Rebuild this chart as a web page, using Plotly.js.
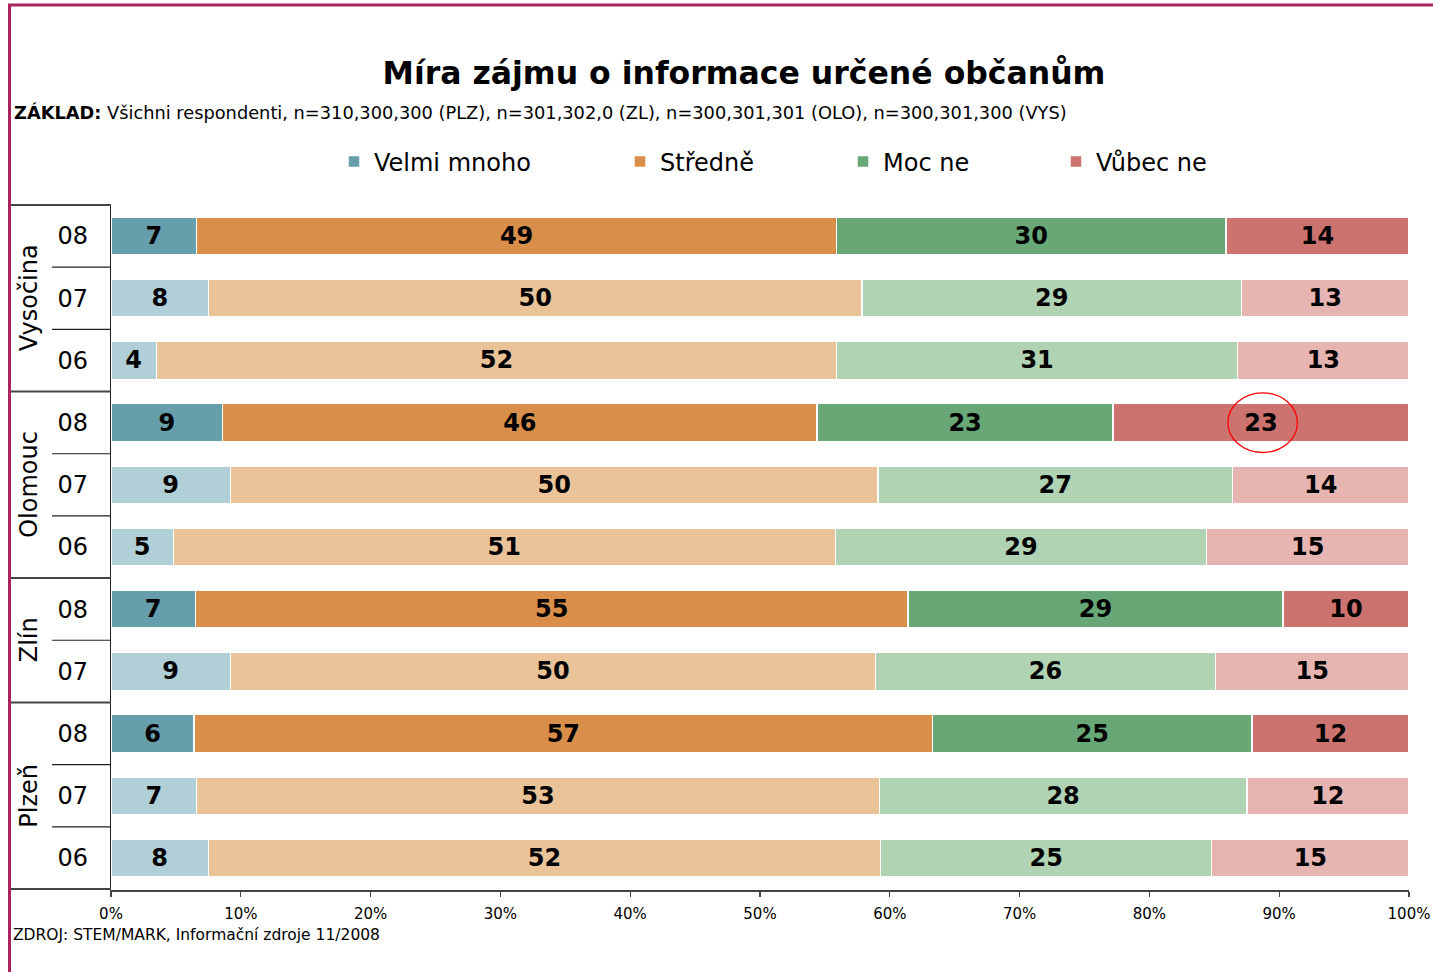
<!DOCTYPE html>
<html>
<head>
<meta charset="utf-8">
<script src="https://cdn.plot.ly/plotly-3.0.1.min.js"></script>
<style>
  html, body { margin: 0; padding: 0; background: #fff; }
  #chart { width: 1433px; height: 972px; }
</style>
</head>
<body>
<div id="chart"></div>
<script>
// ---- Data ----
const regions = ["Vysočina", "Vysočina", "Vysočina", "Olomouc", "Olomouc", "Olomouc", "Zlín", "Zlín", "Plzeň", "Plzeň", "Plzeň"];
const years   = ["08", "07", "06", "08", "07", "06", "08", "07", "08", "07", "06"];

const seriesNames = ["Velmi mnoho", "Středně", "Moc ne", "Vůbec ne"];

// bar lengths (estimated, %)
const velmiMnoho = [6.6, 7.5, 3.5, 8.6, 9.2, 4.8, 6.5, 9.2, 6.4, 6.6, 7.5];
const stredne    = [49.3, 50.3, 52.4, 45.8, 49.9, 51.0, 54.9, 49.7, 56.9, 52.6, 51.8];
const mocNe      = [30.0, 29.2, 30.9, 22.8, 27.3, 28.6, 28.9, 26.2, 24.6, 28.3, 25.5];
const vubecNe    = [14.1, 12.9, 13.2, 22.8, 13.6, 15.6, 9.7, 14.9, 12.1, 12.5, 15.2];

// labels printed in the bars
const velmiMnohoLbl = [7, 8, 4, 9, 9, 5, 7, 9, 6, 7, 8];
const strednLbl     = [49, 50, 52, 46, 50, 51, 55, 50, 57, 53, 52];
const mocNeLbl      = [30, 29, 31, 23, 27, 29, 29, 26, 25, 28, 25];
const vubecNeLbl    = [14, 13, 13, 23, 14, 15, 10, 15, 12, 12, 15];

const groupNames = ["Vysočina", "Olomouc", "Zlín", "Plzeň"];
const xTickVals = [0, 10, 20, 30, 40, 50, 60, 70, 80, 90, 100];
const xTickText = ["0%", "10%", "20%", "30%", "40%", "50%", "60%", "70%", "80%", "90%", "100%"];

// ---- Styles ----
const darkColors  = ["#679EAC", "#D98E4A", "#68A877", "#CC736F"];
const lightColors = ["#B0CFD6", "#EAC498", "#B0D3B3", "#E6B5B1"];
const FONT = "DejaVu Sans, Verdana, sans-serif";

const cats = regions.map((r, i) => r + " " + years[i]);
const values = [velmiMnoho, stredne, mocNe, vubecNe];
const labels = [velmiMnohoLbl, strednLbl, mocNeLbl, vubecNeLbl];

const legendNames = ["legend", "legend2", "legend3", "legend4"];
const traces = seriesNames.map((name, s) => ({
  type: "bar",
  orientation: "h",
  name: name,
  y: cats,
  x: values[s],
  text: labels[s].map(String),
  textposition: "inside",
  insidetextanchor: "middle",
  textangle: 0,
  textfont: { family: FONT, size: 24, color: "#000", weight: "bold" },
  hoverinfo: "skip",
  legend: legendNames[s],
  marker: {
    color: years.map(y => (y === "08" ? darkColors[s] : lightColors[s])),
    line: { color: "#ffffff", width: 1.5 }
  }
}));

// plot area: x 111..1409, y 204..890
const L = 111, R = 1409, T = 204, B = 890;
const pw = R - L, ph = B - T;
const px = v => (v - L) / pw;
const py = v => (B - v) / ph;

// group structure
const groupStart = [];
const groupEnd = [];
groupNames.forEach(g => {
  groupStart.push(regions.indexOf(g));
  groupEnd.push(regions.lastIndexOf(g));
});

const shapes = [];
// group dividers (long)
const groupBounds = [-0.5].concat(groupEnd.map(e => e + 0.5));
groupBounds.forEach(b => {
  shapes.push({ type: "line", xref: "paper", yref: "y", x0: px(8), x1: 0, y0: b, y1: b,
    line: { color: "#444", width: 2 } });
});
// year dividers (short)
for (let i = 0; i < cats.length - 1; i++) {
  if (regions[i] === regions[i + 1]) {
    shapes.push({ type: "line", xref: "paper", yref: "y", x0: px(52), x1: 0, y0: i + 0.5, y1: i + 0.5,
      line: { color: "#222", width: 1.2 } });
  }
}
// red highlight circle around Olomouc 08 "Vůbec ne"
shapes.push({ type: "circle", xref: "x", yref: "y", x0: 86.05, x1: 91.4, y0: 3 - 0.48, y1: 3 + 0.48,
  line: { color: "#ff0000", width: 1.3 } });
// page frame
shapes.push({ type: "line", xref: "paper", yref: "paper", x0: px(8), x1: px(1433), y0: py(5), y1: py(5),
  line: { color: "#A8245F", width: 3 } });
shapes.push({ type: "line", xref: "paper", yref: "paper", x0: px(9.5), x1: px(9.5), y0: py(4), y1: py(972),
  line: { color: "#A8245F", width: 3 } });

const annotations = [];
groupNames.forEach((g, k) => {
  const mid = (groupStart[k] + groupEnd[k]) / 2;
  annotations.push({ text: g, xref: "paper", yref: "y", x: px(29), y: mid, textangle: -90,
    showarrow: false, xanchor: "center", yanchor: "middle",
    font: { family: FONT, size: 24, color: "#000" } });
});
annotations.push({
  text: "<b>ZÁKLAD:</b> Všichni respondenti, n=310,300,300 (PLZ), n=301,302,0 (ZL), n=300,301,301 (OLO), n=300,301,300 (VYS)",
  xref: "paper", yref: "paper", x: px(12), y: py(113), xanchor: "left", yanchor: "middle",
  showarrow: false, font: { family: FONT, size: 17.8, color: "#000" }
});
annotations.push({
  text: "ZDROJ: STEM/MARK, Informační zdroje 11/2008",
  xref: "paper", yref: "paper", x: px(11), y: py(935), xanchor: "left", yanchor: "middle",
  showarrow: false, font: { family: FONT, size: 15.5, color: "#000" }
});

const legendTextStart = [374, 660, 883, 1096];
const layout = {
  width: 1433, height: 972,
  margin: { l: L, r: 1433 - R, t: T, b: 972 - B, pad: 0 },
  paper_bgcolor: "#fff", plot_bgcolor: "#fff",
  barmode: "stack",
  barnorm: "percent",
  bargap: 0.39,
  font: { family: FONT, color: "#000" },
  title: {
    text: "<b>Míra zájmu o informace určené občanům</b>",
    xref: "container", yref: "container", x: 744 / 1433, y: 1 - 73 / 972,
    xanchor: "center", yanchor: "middle",
    font: { family: FONT, size: 31.5, color: "#000" }
  },
  xaxis: {
    range: [0, 100], tickmode: "array", tickvals: xTickVals, ticktext: xTickText,
    ticks: "outside", ticklen: 5, tickcolor: "#444", tickwidth: 1.2,
    ticklabelstandoff: 4,
    showline: true, linecolor: "#444", linewidth: 1.5,
    showgrid: false, zeroline: false,
    tickfont: { family: FONT, size: 15, color: "#000" }
  },
  yaxis: {
    type: "category", autorange: "reversed",
    tickvals: cats, ticktext: years,
    ticks: "", ticklabelstandoff: 17,
    showline: true, linecolor: "#222", linewidth: 1.2,
    showgrid: false, zeroline: false,
    tickfont: { family: FONT, size: 24, color: "#000" }
  },
  shapes: shapes,
  annotations: annotations,
  showlegend: true
};
legendNames.forEach((ln, s) => {
  layout[ln] = {
    orientation: "h",
    x: px(legendTextStart[s] - 40), xanchor: "left",
    y: py(162), yanchor: "middle",
    bgcolor: "rgba(0,0,0,0)", borderwidth: 0,
    font: { family: FONT, size: 24, color: "#000" }
  };
});

Plotly.newPlot("chart", traces, layout, { staticPlot: true, displayModeBar: false });
</script>
</body>
</html>
